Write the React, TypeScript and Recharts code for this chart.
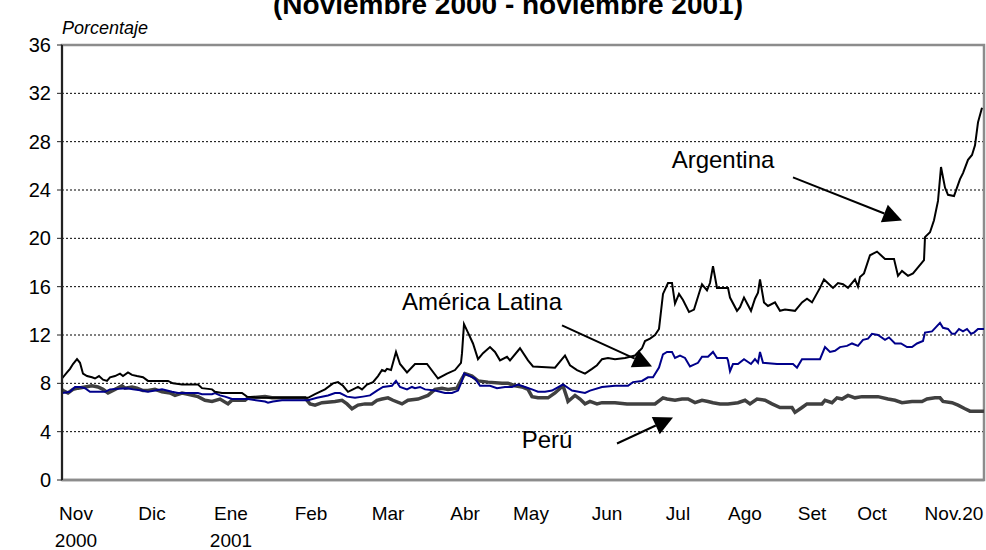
import React from 'react';
import { LineChart, Line, XAxis, YAxis, CartesianGrid, ReferenceLine, ReferenceDot, ReferenceArea } from 'recharts';

type Pt = [number, number];

// x = trading-observation index (0..922), value = percentage
const argentina: Pt[] = [
  [0, 8.6], [1, 8.5], [5, 8.9], [8, 9.2], [11, 9.6], [15, 10.0], [18, 9.7], [21, 8.8], [25, 8.6], [30, 8.5], [33, 8.4], [37, 8.6], [41, 8.3], [45, 8.2], [48, 8.5], [53, 8.6], [58, 8.8], [61, 8.6], [66, 8.9], [70, 8.7], [75, 8.6], [81, 8.5], [86, 8.2], [93, 8.2], [106, 8.2], [111, 8.0], [120, 7.9], [136, 7.9], [140, 7.6], [150, 7.5], [153, 7.3], [160, 7.2], [180, 7.2], [185, 6.9], [200, 6.8], [220, 6.8], [233, 6.8], [246, 6.8], [253, 7.1], [263, 7.5], [271, 8.0], [276, 8.1], [281, 7.8], [286, 7.3], [291, 7.5], [296, 7.7], [300, 7.5], [305, 7.9], [311, 8.1], [316, 8.6], [320, 9.1], [323, 9.0], [325, 9.2], [329, 9.1], [334, 10.6], [338, 9.6], [345, 8.9], [353, 9.6], [365, 9.6], [376, 8.4], [385, 8.8], [393, 9.1], [399, 9.7], [400, 10.5], [402, 12.9], [406, 12.2], [411, 11.3], [416, 10.0], [421, 10.5], [428, 11.0], [433, 10.6], [438, 9.9], [445, 10.2], [448, 9.9], [458, 10.9], [466, 9.9], [471, 9.4], [493, 9.3], [500, 10.0], [503, 10.3], [508, 9.5], [515, 9.1], [523, 8.8], [530, 9.2], [535, 9.5], [540, 10.0], [546, 10.1], [553, 10.0], [563, 10.1], [573, 10.3], [580, 10.9], [583, 11.5], [588, 11.7], [593, 12.0], [597, 12.5], [601, 15.4], [606, 16.3], [610, 16.3], [613, 14.6], [617, 15.4], [621, 14.9], [627, 13.9], [632, 14.1], [638, 15.7], [640, 16.2], [645, 15.7], [648, 16.3], [651, 17.7], [655, 15.9], [666, 15.9], [668, 15.1], [675, 14.0], [678, 14.3], [682, 15.1], [689, 14.0], [693, 15.0], [696, 15.5], [698, 16.6], [702, 14.7], [706, 14.4], [713, 14.7], [718, 14.0], [723, 14.1], [733, 14.0], [740, 14.7], [745, 15.0], [750, 14.7], [754, 15.3], [758, 15.9], [762, 16.6], [771, 15.9], [776, 16.3], [781, 16.2], [786, 15.9], [793, 16.6], [796, 16.0], [798, 16.8], [802, 17.1], [808, 18.6], [815, 18.9], [823, 18.3], [832, 18.3], [836, 16.9], [840, 17.3], [846, 16.9], [851, 17.1], [856, 17.6], [862, 18.2], [863, 20.1], [868, 20.5], [872, 21.5], [876, 23.1], [879, 25.9], [883, 24.2], [886, 23.6], [892, 23.5], [898, 24.9], [901, 25.4], [906, 26.5], [910, 26.9], [913, 27.7], [916, 29.6], [920, 30.8],
];

const americaLatina: Pt[] = [
  [0, 7.3], [1, 7.2], [8, 7.3], [13, 7.7], [18, 7.7], [23, 7.6], [28, 7.3], [43, 7.3], [48, 7.5], [65, 7.6], [71, 7.5], [80, 7.4], [86, 7.3], [93, 7.4], [100, 7.5], [110, 7.3], [116, 7.2], [136, 7.2], [140, 7.1], [150, 7.1], [153, 7.2], [158, 7.0], [163, 6.9], [170, 6.7], [186, 6.7], [203, 6.5], [206, 6.4], [211, 6.5], [220, 6.6], [246, 6.6], [255, 6.8], [266, 7.0], [273, 7.2], [278, 7.2], [285, 6.9], [293, 6.8], [301, 6.9], [308, 7.0], [315, 7.4], [321, 7.7], [330, 7.8], [334, 8.2], [338, 7.7], [345, 7.5], [350, 7.7], [353, 7.6], [358, 7.7], [363, 7.5], [373, 7.4], [383, 7.2], [390, 7.2], [396, 7.4], [400, 8.2], [402, 8.8], [408, 8.6], [413, 8.4], [418, 7.8], [428, 7.8], [435, 7.6], [443, 7.7], [450, 7.7], [456, 7.9], [463, 7.7], [470, 7.5], [476, 7.3], [483, 7.3], [490, 7.4], [501, 7.9], [510, 7.4], [523, 7.2], [528, 7.4], [540, 7.7], [553, 7.8], [566, 7.8], [571, 8.1], [580, 8.2], [586, 8.5], [591, 8.5], [597, 9.3], [601, 10.4], [605, 10.6], [610, 10.6], [613, 10.1], [618, 10.3], [623, 10.1], [628, 9.4], [636, 9.7], [640, 10.2], [646, 10.2], [651, 10.6], [655, 10.1], [665, 10.1], [666, 9.9], [668, 9.0], [671, 9.6], [676, 9.6], [682, 10.0], [689, 9.6], [693, 10.0], [696, 9.7], [698, 10.6], [701, 9.7], [715, 9.6], [720, 9.6], [731, 9.6], [735, 9.3], [740, 10.0], [758, 10.0], [763, 11.0], [768, 10.6], [773, 10.7], [778, 11.0], [785, 11.1], [790, 11.3], [796, 11.1], [801, 11.6], [806, 11.7], [810, 12.1], [816, 12.0], [823, 11.6], [827, 11.8], [833, 11.3], [839, 11.3], [845, 11.0], [850, 11.0], [855, 11.3], [861, 11.5], [863, 12.2], [870, 12.3], [878, 13.0], [881, 12.6], [886, 12.5], [890, 12.1], [893, 12.1], [897, 12.5], [901, 12.3], [905, 12.5], [909, 12.1], [912, 12.2], [916, 12.5], [922, 12.5],
];

const peru: Pt[] = [
  [0, 7.5], [1, 7.4], [6, 7.2], [11, 7.5], [16, 7.6], [23, 7.7], [30, 7.8], [36, 7.7], [41, 7.5], [46, 7.2], [53, 7.5], [60, 7.8], [63, 7.6], [70, 7.7], [75, 7.6], [81, 7.4], [86, 7.4], [93, 7.5], [100, 7.3], [108, 7.2], [113, 7.0], [120, 7.2], [126, 7.1], [136, 6.9], [143, 6.6], [150, 6.5], [158, 6.7], [166, 6.3], [170, 6.6], [183, 6.6], [186, 6.8], [203, 6.9], [210, 6.8], [223, 6.8], [243, 6.8], [248, 6.3], [253, 6.2], [260, 6.4], [273, 6.5], [280, 6.6], [285, 6.3], [290, 5.9], [296, 6.2], [303, 6.3], [310, 6.3], [315, 6.6], [320, 6.7], [326, 6.8], [331, 6.6], [340, 6.3], [346, 6.6], [356, 6.7], [366, 7.0], [373, 7.5], [380, 7.6], [386, 7.5], [395, 7.6], [400, 8.4], [403, 8.8], [410, 8.6], [416, 8.2], [426, 8.1], [440, 8.0], [446, 8.0], [453, 7.8], [460, 7.7], [466, 7.5], [470, 6.9], [476, 6.8], [486, 6.8], [493, 7.2], [501, 7.8], [505, 6.8], [506, 6.5], [513, 7.0], [518, 6.7], [523, 6.3], [528, 6.5], [535, 6.3], [540, 6.4], [553, 6.4], [565, 6.3], [593, 6.3], [601, 6.8], [605, 6.7], [613, 6.6], [620, 6.7], [626, 6.7], [633, 6.4], [640, 6.6], [646, 6.5], [651, 6.4], [658, 6.3], [666, 6.3], [676, 6.4], [683, 6.6], [688, 6.3], [695, 6.7], [703, 6.6], [710, 6.3], [718, 6.0], [730, 6.0], [733, 5.6], [740, 6.0], [745, 6.3], [760, 6.3], [763, 6.6], [770, 6.4], [775, 6.8], [780, 6.7], [786, 7.0], [793, 6.8], [800, 6.9], [816, 6.9], [826, 6.7], [833, 6.6], [840, 6.4], [850, 6.5], [860, 6.5], [865, 6.7], [873, 6.8], [878, 6.8], [881, 6.5], [890, 6.4], [896, 6.2], [903, 5.9], [908, 5.7], [922, 5.7],
];

const monthTickPos = [14, 90, 169, 249, 326, 403, 469, 545, 616, 683, 750, 810, 892];
const monthLabels = ['Nov', 'Dic', 'Ene', 'Feb', 'Mar', 'Abr', 'May', 'Jun', 'Jul', 'Ago', 'Set', 'Oct', 'Nov.20'];
const yearLabels = ['2000', '', '2001', '', '', '', '', '', '', '', '', '', ''];
const yTicks = [0, 4, 8, 12, 16, 20, 24, 28, 32, 36];

const seriesNames = ['Argentina', 'América Latina', 'Perú'];
const labelPos: Pt[] = [[661, 26.45], [420, 14.7], [485, 3.27]];
const arrowFrom: Pt[] = [[731, 25.04], [500, 12.79], [555, 3.02]];
const arrowTo: Pt[] = [[840, 21.48], [590, 9.4], [611, 5.17]];

const title = '(Noviembre 2000 - noviembre 2001)';
const yTitle = 'Porcentaje';

const FONT = '"Liberation Sans", Arial, sans-serif';

const toRows = (pts: Pt[]) => pts.map(([x, v]) => ({ x, v }));

const XTick = (props: any) => {
  const { x, y, payload } = props;
  const i = monthTickPos.indexOf(payload.value);
  return (
    <g>
      <text x={x} y={y + 40} textAnchor="middle" fontSize={19} fontFamily={FONT} fill="#000">
        {monthLabels[i]}
      </text>
      {yearLabels[i] ? (
        <text x={x} y={y + 67} textAnchor="middle" fontSize={19} fontFamily={FONT} fill="#000">
          {yearLabels[i]}
        </text>
      ) : null}
    </g>
  );
};

const Arrow = (props: any) => {
  const { x1, y1, x2, y2 } = props;
  const dx = x2 - x1;
  const dy = y2 - y1;
  const len = Math.sqrt(dx * dx + dy * dy);
  const ux = dx / len;
  const uy = dy / len;
  const hl = 19;
  const hw = 9.5;
  const bx = x2 - ux * hl;
  const by = y2 - uy * hl;
  const pts = `${x2},${y2} ${bx - uy * hw},${by + ux * hw} ${bx + uy * hw},${by - ux * hw}`;
  return (
    <g>
      <line x1={x1} y1={y1} x2={bx} y2={by} stroke="#000" strokeWidth={2} />
      <polygon points={pts} fill="#000" />
    </g>
  );
};

export default function App() {
  return (
    <div style={{ position: 'absolute', left: 0, top: 0, width: 986, height: 550, background: '#fff' }}>
      <LineChart width={986} height={550} margin={{ top: 45, right: 2, bottom: 0, left: 0 }}>
        <CartesianGrid horizontal vertical={false} stroke="#000" strokeDasharray="2 2" strokeWidth={1} />
        <ReferenceArea x1={0} x2={922} y1={0} y2={36} fill="none" stroke="#8c8c8c" strokeWidth={2.5} />
        <XAxis
          type="number"
          dataKey="x"
          domain={[0, 922]}
          ticks={monthTickPos}
          interval={0}
          tick={<XTick />}
          tickLine={false}
          tickSize={0}
          tickMargin={0}
          axisLine={{ stroke: '#8c8c8c', strokeWidth: 2.5 }}
          height={70}
          allowDataOverflow
        />
        <YAxis
          type="number"
          domain={[0, 36]}
          ticks={yTicks}
          interval={0}
          width={62}
          tickSize={5}
          tickMargin={6}
          axisLine={{ stroke: '#222', strokeWidth: 2 }}
          tickLine={{ stroke: '#222', strokeWidth: 1 }}
          tick={{ fontSize: 20, fontFamily: FONT, fill: '#000' }}
        />
        <Line data={toRows(peru)} dataKey="v" type="linear" stroke="#404040" strokeWidth={3.5} dot={false} isAnimationActive={false} />
        <Line data={toRows(americaLatina)} dataKey="v" type="linear" stroke="#00008b" strokeWidth={2} dot={false} isAnimationActive={false} />
        <Line data={toRows(argentina)} dataKey="v" type="linear" stroke="#000" strokeWidth={2} dot={false} isAnimationActive={false} />
        {seriesNames.map((name, i) => (
          <ReferenceLine
            key={'a' + i}
            segment={[{ x: arrowFrom[i][0], y: arrowFrom[i][1] }, { x: arrowTo[i][0], y: arrowTo[i][1] }]}
            shape={(p: any) => <Arrow {...p} />}
          />
        ))}
        {seriesNames.map((name, i) => (
          <ReferenceDot
            key={'t' + i}
            x={labelPos[i][0]}
            y={labelPos[i][1]}
            r={0}
            shape={(p: any) => (
              <text x={p.cx} y={p.cy + 8} textAnchor="middle" fontSize={24} fontFamily={FONT} fill="#000">
                {name}
              </text>
            )}
          />
        ))}
      </LineChart>
      <svg width={986} height={550} style={{ position: 'absolute', left: 0, top: 0, pointerEvents: 'none' }}>
        <text x={508} y={14} textAnchor="middle" fontSize={28} fontWeight="bold" fontFamily={FONT} fill="#000">
          {title}
        </text>
        <text x={62} y={34} fontSize={18} fontStyle="italic" fontFamily={FONT} fill="#000">
          {yTitle}
        </text>
      </svg>
    </div>
  );
}
